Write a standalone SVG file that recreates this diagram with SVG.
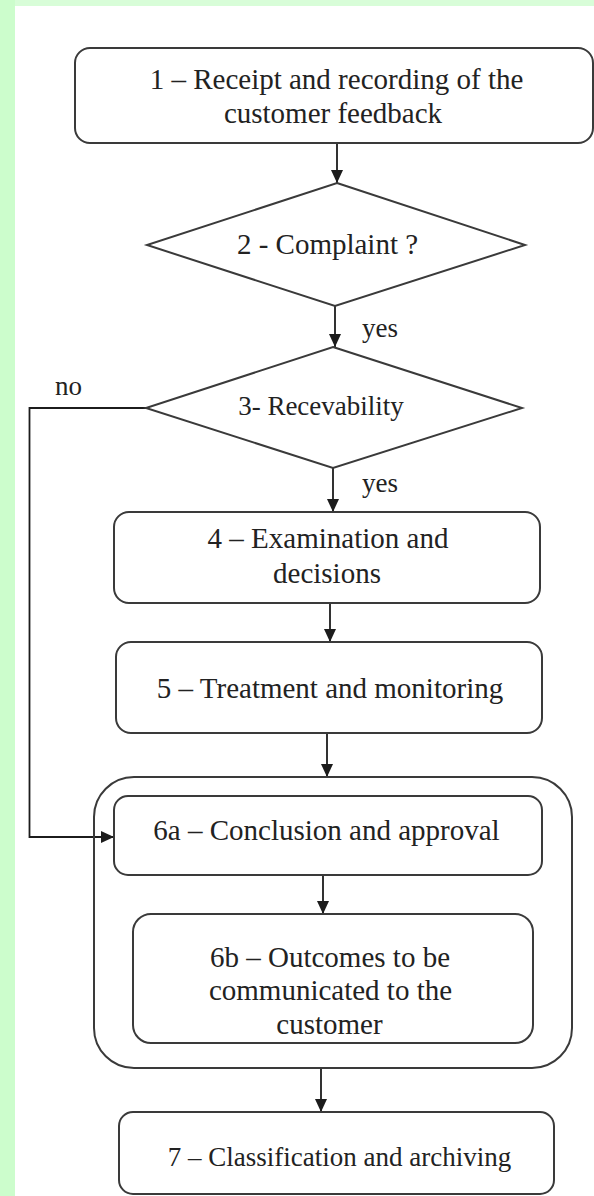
<svg xmlns="http://www.w3.org/2000/svg" width="594" height="1196" viewBox="0 0 594 1196">
  <style>
    .box { fill: #ffffff; stroke: #3a3a3a; stroke-width: 2; }
    .group { fill: none; stroke: #3a3a3a; stroke-width: 2; }
    .wire { fill: none; stroke: #1c1c1c; stroke-width: 1.8; }
    text { fill: #222222; }
    .t { font-size: 29px; text-anchor: middle; }
    .s { font-size: 27px; }
  </style>
  <defs>
    <marker id="arrow" markerUnits="userSpaceOnUse" markerWidth="14" markerHeight="14" viewBox="0 0 14 14" refX="13" refY="7" orient="auto">
      <path d="M0,1 L13,7 L0,13 Z" fill="#1c1c1c"/>
    </marker>
  </defs>

  <!-- page frame -->
  <rect x="0" y="0" width="594" height="1196" fill="#ffffff"/>
  <rect x="0" y="0" width="594" height="6" fill="#d8fdd8"/>
  <rect x="0" y="0" width="15" height="1196" fill="#ccfdcc"/>

  <g font-family="'Liberation Serif', 'DejaVu Serif', serif">
  <!-- connectors -->
  <g id="connectors">
    <path class="wire" d="M337,143 V183" marker-end="url(#arrow)"/>
    <path class="wire" d="M335,306 V347" marker-end="url(#arrow)"/>
    <path class="wire" d="M333,468 V512" marker-end="url(#arrow)"/>
    <path class="wire" d="M330,603 V642" marker-end="url(#arrow)"/>
    <path class="wire" d="M327,733 V777" marker-end="url(#arrow)"/>
    <path class="wire" d="M146,408 H29.5 V837 H114" marker-end="url(#arrow)"/>
    <path class="wire" d="M323,875 V914" marker-end="url(#arrow)"/>
    <path class="wire" d="M321,1068 V1112" marker-end="url(#arrow)"/>
    <text class="s" x="362" y="337">yes</text>
    <text class="s" x="362" y="492">yes</text>
    <text class="s" x="55" y="395">no</text>
  </g>

  <!-- 1: receipt -->
  <g id="node1">
    <rect class="box" x="75" y="48" width="518" height="95" rx="15"/>
    <text class="t" x="336.5" y="89">1 – Receipt and recording of the</text>
    <text class="t" x="333" y="123">customer feedback</text>
  </g>

  <!-- 2: complaint decision -->
  <g id="node2">
    <polygon class="box" points="337,183 525,245 335,306 147,245"/>
    <text class="t" x="327.5" y="254">2 - Complaint ?</text>
  </g>

  <!-- 3: receivability decision -->
  <g id="node3">
    <polygon class="box" points="333,347 522,408 333,468 146,408"/>
    <text class="t" x="321" y="415" style="font-size:27px">3- Recevability</text>
  </g>

  <!-- 4: examination -->
  <g id="node4">
    <rect class="box" x="114" y="512" width="426" height="91" rx="15"/>
    <text class="t" x="328" y="548">4 – Examination and</text>
    <text class="t" x="327" y="583">decisions</text>
  </g>

  <!-- 5: treatment -->
  <g id="node5">
    <rect class="box" x="116" y="642" width="426" height="91" rx="15"/>
    <text class="t" x="330" y="698">5 – Treatment and monitoring</text>
  </g>

  <!-- 6: conclusion group -->
  <g id="node6">
    <rect class="group" x="94" y="777" width="478" height="291" rx="40"/>
  </g>

  <g id="node6a">
    <rect class="box" x="114" y="796" width="428" height="79" rx="14"/>
    <text class="t" x="326.5" y="840">6a – Conclusion and approval</text>
  </g>

  <g id="node6b">
    <rect class="box" x="133" y="914" width="400" height="129" rx="18"/>
    <text class="t" x="330" y="967">6b – Outcomes to be</text>
    <text class="t" x="330.5" y="1000">communicated to the</text>
    <text class="t" x="329.5" y="1034">customer</text>
  </g>

  <!-- 7: archiving -->
  <g id="node7">
    <rect class="box" x="119" y="1112" width="435" height="82" rx="14"/>
    <text class="t" x="339.5" y="1166" style="font-size:27px">7 – Classification and archiving</text>
  </g>
  </g>
</svg>
